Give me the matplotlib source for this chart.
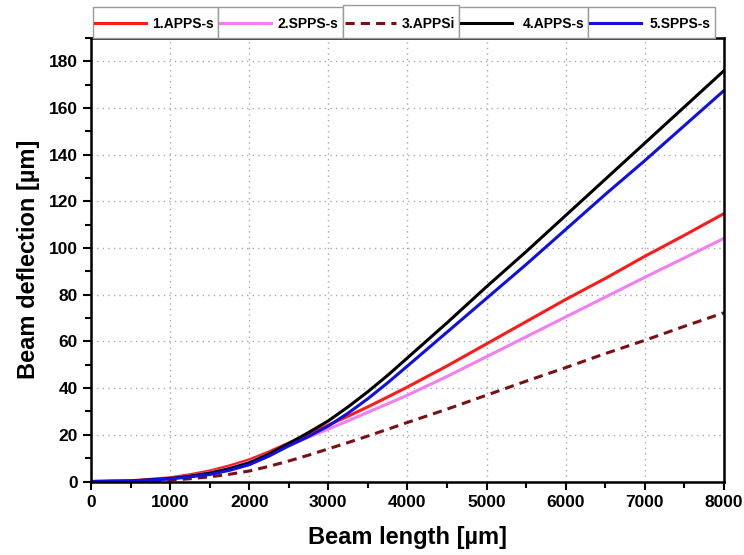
import matplotlib

matplotlib.use("Agg")

import matplotlib.pyplot as plt
from matplotlib.lines import Line2D
from matplotlib.patches import Rectangle
from matplotlib.ticker import MultipleLocator

plt.rcParams["font.family"] = ["Liberation Sans", "DejaVu Sans"]
plt.rcParams["font.weight"] = "bold"

LENGTH = [0, 500, 1000, 1250, 1500, 1750, 2000, 2250, 2500, 2750, 3000, 3250,
          3500, 3750, 4000, 4500, 5000, 5500, 6000, 6500, 7000, 7500, 8000]

APPS_S_1 = [0, 0.3, 1.6, 2.9, 4.5, 6.7, 9.3, 12.7, 16.5, 20.3, 24.2, 28.0,
            32.0, 36.2, 40.5, 49.5, 59.0, 68.5, 78.0, 87.0, 96.5, 105.5, 114.8]
SPPS_S_2 = [0, 0.2, 1.3, 2.4, 3.8, 5.8, 8.4, 11.9, 15.3, 19.0, 22.5, 26.0,
            29.7, 33.3, 37.0, 45.0, 53.5, 62.0, 70.5, 79.0, 87.5, 95.8, 104.2]
APPSI_3 = [0, 0.05, 0.6, 1.2, 2.0, 3.1, 4.5, 6.5, 8.8, 11.3, 14.0, 16.7,
           19.5, 22.4, 25.3, 31.0, 37.0, 43.0, 48.8, 54.8, 60.5, 66.5, 72.3]
APPS_S_4 = [0, 0.2, 1.3, 2.3, 3.6, 5.5, 8.0, 11.8, 16.3, 21.0, 26.0, 32.0,
            38.5, 45.5, 53.0, 68.0, 83.5, 98.5, 114.0, 129.5, 145.0, 160.5, 176.0]
SPPS_S_5 = [0, 0.2, 1.1, 2.0, 3.0, 4.8, 7.2, 10.9, 15.3, 19.3, 23.8, 29.3,
            35.5, 42.3, 49.5, 64.0, 78.5, 93.0, 108.0, 123.0, 137.5, 152.5, 167.5]

LABELS = ["1.APPS-s", "2.SPPS-s", "3.APPSi", "4.APPS-s", "5.SPPS-s"]
SERIES = [APPS_S_1, SPPS_S_2, APPSI_3, APPS_S_4, SPPS_S_5]
COLORS = ["#ff1a1a", "#f27ff2", "#7a0f14", "#000000", "#1010e0"]
STYLES = ["-", "-", (0, (3, 2)), "-", "-"]

fig = plt.figure(figsize=(7.44, 5.55), dpi=100)
ax = fig.add_axes([0.1223, 0.1324, 0.8508, 0.7991])

for values, color, style in zip(SERIES, COLORS, STYLES):
    ax.plot(LENGTH, values, color=color, linestyle=style, linewidth=2.2)

ax.set_xlim(0, 8000)
ax.set_ylim(0, 190)
ax.xaxis.set_major_locator(MultipleLocator(1000))
ax.xaxis.set_minor_locator(MultipleLocator(500))
ax.yaxis.set_major_locator(MultipleLocator(20))
ax.yaxis.set_minor_locator(MultipleLocator(10))
ax.tick_params(which="major", direction="out", length=6, width=1.5, labelsize=12.5)
ax.tick_params(which="minor", direction="out", length=4, width=1.5)
for side in ax.spines.values():
    side.set_linewidth(1.8)
ax.grid(True, which="major", linestyle=(0, (1, 3)), color="#aaaaaa", linewidth=1.0)

ax.set_xlabel("Beam length [\u00b5m]", fontsize=17, fontweight="bold", labelpad=12)
ax.set_ylabel("Beam deflection [\u00b5m]", fontsize=17, fontweight="bold", labelpad=6)

# legend row above the axes, one bordered cell per series (pixel layout)
px_w, px_h = 744.0, 555.0
edges = [92.7, 217.5, 342.7, 459.0, 588.3, 715.0]
tops = [6.5, 6.5, 4.7, 6.5, 6.5]
cell_bot = 37.5
for i, (label, color, style) in enumerate(zip(LABELS, COLORS, STYLES)):
    x0, x1 = edges[i], edges[i + 1]
    fig.add_artist(Rectangle((x0 / px_w, 1 - cell_bot / px_h), (x1 - x0) / px_w,
                             (cell_bot - tops[i]) / px_h, transform=fig.transFigure,
                             facecolor="white", edgecolor="#9a9a9a", linewidth=1.0))
    yc = 1 - 22.7 / px_h
    fig.add_artist(Line2D([(x0 + 2) / px_w, (x0 + 53) / px_w], [yc, yc],
                          transform=fig.transFigure, color=color,
                          linestyle=style, linewidth=2.2))
    fig.text((x1 - 4) / px_w, 1 - 24.5 / px_h, label, ha="right", va="center",
             fontsize=10, fontweight="bold")

fig.savefig("out.png", dpi=100)
